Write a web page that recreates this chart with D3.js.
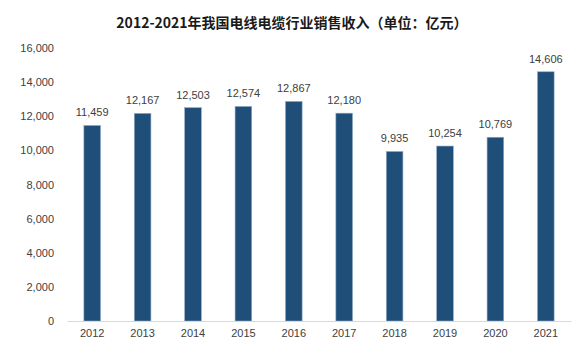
<!DOCTYPE html>
<html>
<head>
<meta charset="utf-8">
<script src="https://cdn.jsdelivr.net/npm/d3@7"></script>
<style>
  html, body { margin: 0; padding: 0; background: #ffffff; }
  svg { display: block; }
</style>
</head>
<body>
<svg id="chart" width="577" height="347"></svg>
<script>
// Annual sales revenue of China's wire & cable industry (100 million yuan)
const years = ["2012", "2013", "2014", "2015", "2016", "2017", "2018", "2019", "2020", "2021"];
const revenue = [11459, 12167, 12503, 12574, 12867, 12180, 9935, 10254, 10769, 14606];
const yTicks = [0, 2000, 4000, 6000, 8000, 10000, 12000, 14000, 16000];
const titleText = "2012-2021年我国电线电缆行业销售收入（单位：亿元）";

const svg = d3.select("#chart");
const margin = { left: 67, right: 6, top: 48, bottom: 26 };
const W = 577, H = 347;

const x = d3.scaleBand()
  .domain(years)
  .range([margin.left, W - margin.right])
  .paddingInner(0.67)
  .paddingOuter(0.335);

const y = d3.scaleLinear()
  .domain([0, 16000])
  .range([H - margin.bottom, margin.top]);

const fmt = d3.format(",");
const labelFont = "'Liberation Sans', Arial, sans-serif";

// Title
svg.append("text")
  .attr("x", 292)
  .attr("y", 28)
  .attr("text-anchor", "middle")
  .attr("font-family", "'Noto Sans CJK SC', sans-serif")
  .attr("font-weight", "bold")
  .attr("font-size", 14)
  .attr("fill", "#1a1a1a")
  .text(titleText);

// Y axis (labels only, no line)
const yAxis = d3.axisLeft(y)
  .tickValues(yTicks)
  .tickFormat(fmt)
  .tickSize(0)
  .tickPadding(0);

const gy = svg.append("g")
  .attr("transform", `translate(${margin.left - 13},0)`)
  .call(yAxis);
gy.select(".domain").remove();
gy.selectAll("text")
  .attr("font-family", labelFont)
  .attr("font-size", 11)
  .attr("fill", "#404040");

// Bars
svg.append("g")
  .selectAll("rect")
  .data(years)
  .join("rect")
  .attr("x", d => x(d))
  .attr("y", (d, i) => y(revenue[i]))
  .attr("width", x.bandwidth())
  .attr("height", (d, i) => y(0) - y(revenue[i]))
  .attr("fill", "#1f4e79")
  .attr("stroke", "#8fa9c4")
  .attr("stroke-width", 0.6);

// Value labels
svg.append("g")
  .selectAll("text")
  .data(years)
  .join("text")
  .attr("x", d => x(d) + x.bandwidth() / 2)
  .attr("y", (d, i) => y(revenue[i]) - 9)
  .attr("text-anchor", "middle")
  .attr("font-family", labelFont)
  .attr("font-size", 11)
  .attr("fill", "#404040")
  .text((d, i) => fmt(revenue[i]));

// X axis
const xAxis = d3.axisBottom(x).tickSize(0).tickPadding(8);
const gx = svg.append("g")
  .attr("transform", `translate(0,${y(0)})`)
  .call(xAxis);
gx.select(".domain")
  .attr("stroke", "#d9d9d9")
  .attr("stroke-width", 1);
gx.selectAll("text")
  .attr("font-family", labelFont)
  .attr("font-size", 11)
  .attr("fill", "#404040");
</script>
</body>
</html>
